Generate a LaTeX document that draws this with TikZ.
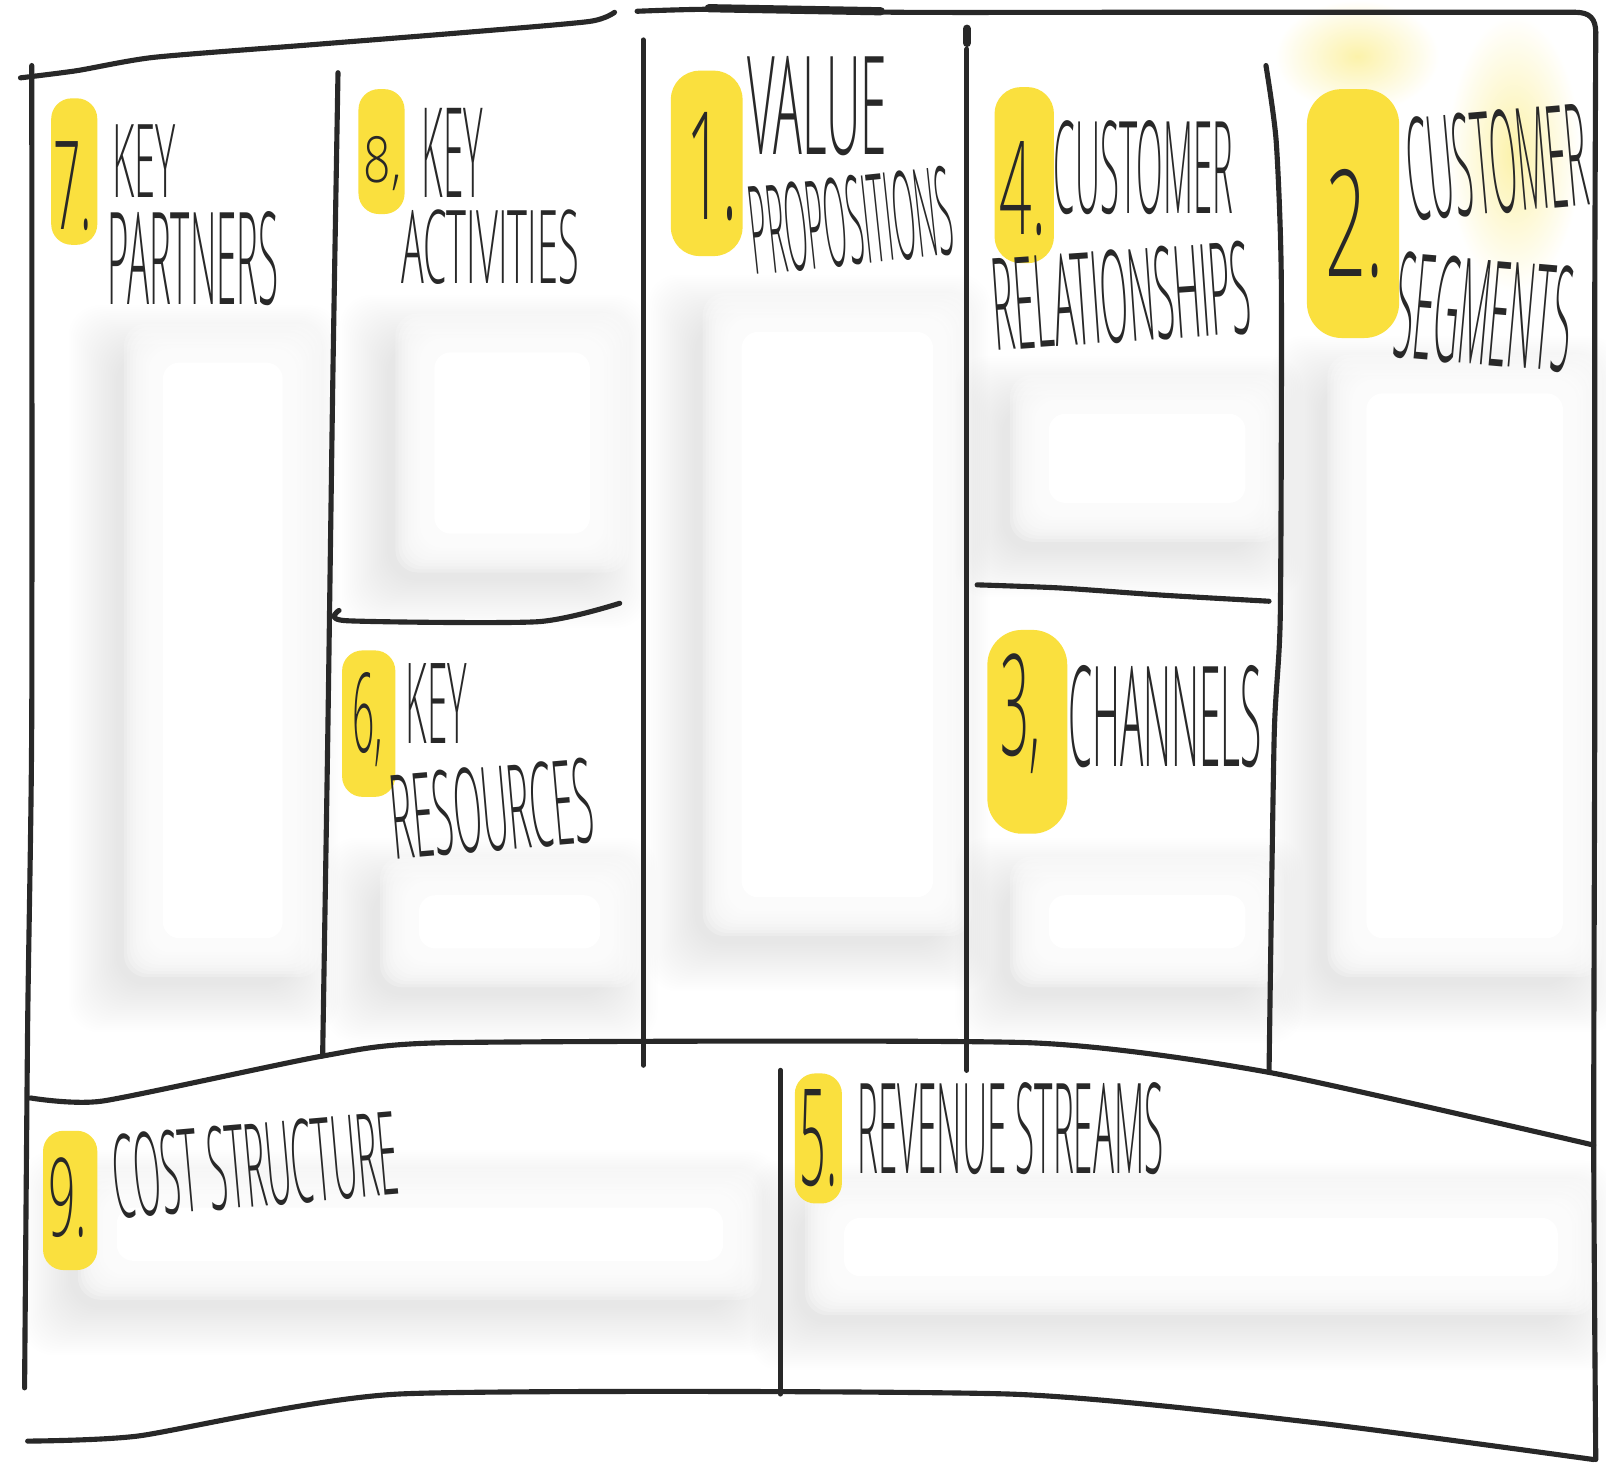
\documentclass[tikz,border=0pt]{standalone}
\usepackage{fontspec}
\IfFontExistsTF{Open Sans Light}{\newfontfamily\hwfont{Open Sans Light}}{%
  \IfFontExistsTF{Lato Light}{\newfontfamily\hwfont{Lato Light}}{%
    \IfFontExistsTF{Fira Sans Light}{\newfontfamily\hwfont{Fira Sans Light}}{%
      \newfontfamily\hwfont{Open Sans}}}}
\newcommand{\hwtext}[3]{\resizebox*{#1pt}{#2pt}{\hwfont #3}}
\definecolor{mk}{RGB}{250,224,62}
\definecolor{ink}{RGB}{40,40,40}
\definecolor{glow}{RGB}{252,242,170}
\newcommand{\softbox}[4]{%
  \foreach \k in {0,...,23}{%
    \pgfmathsetmacro{\dd}{50-2*\k}%
    \fill[black, opacity=0.005, rounded corners=30pt] ({#1-\dd-18},{#2-\dd+18}) rectangle ({#3+\dd-18},{#4+\dd+18});
  }%
  \foreach \k in {0,...,12}{%
    \pgfmathsetmacro{\ee}{3*\k-14}%
    \fill[white, opacity=0.22, rounded corners=22pt] ({#1+\ee},{#2+\ee}) rectangle ({#3-\ee},{#4-\ee});
  }%
  \fill[white, rounded corners=16pt] ({#1+24},{#2+24}) rectangle ({#3-24},{#4-24});
}
\begin{document}
\begin{tikzpicture}[x=1pt,y=-1pt,
  pen/.style={draw=ink, line width=5pt, line cap=round, line join=round},
  blob/.style={fill=mk, rounded corners=#1},
  blob/.default=20pt,
  lbl/.style={inner sep=0pt, outer sep=0pt, text=ink}
]
\useasboundingbox[fill=white] (0,0) rectangle (1568,1438);

% soft grey halos inside the boxes
\softbox{135}{330}{300}{940}
\softbox{400}{320}{600}{545}
\softbox{385}{850}{610}{950}
\softbox{700}{300}{935}{900}
\softbox{1000}{380}{1240}{515}
\softbox{1000}{850}{1240}{950}
\softbox{1310}{360}{1550}{940}
\softbox{90}{1155}{730}{1255}
\softbox{800}{1165}{1545}{1270}

% faint yellow glow near segment 2
\shade[inner color=glow, outer color=white] (1325,55) ellipse (80 and 55);
\shade[inner color=glow, outer color=white] (1478,150) ellipse (65 and 135);

% marker blobs
\fill[blob] (50,96) rectangle (95,239);
\fill[blob] (350,87) rectangle (395,209);
\fill[blob=28pt] (655,69) rectangle (725,250);
\fill[blob=26pt] (971,85) rectangle (1029,257);
\fill[blob=34pt] (1276,87) rectangle (1366,330);
\fill[blob] (334,635) rectangle (386,778);
\fill[blob=34pt] (964,615) rectangle (1042,814);
\fill[blob] (42,1104) rectangle (95,1240);
\fill[blob] (776,1048) rectangle (822,1175);

% frame and dividers
\draw[pen] plot[smooth,tension=0.4] coordinates {(20,76) (75,69) (150,56) (300,44) (450,32) (575,21) (600,12)};
\draw[pen] plot[smooth,tension=0.4] coordinates {(622,11) (700,9) (880,12) (1100,12) (1300,12) (1538,12)};
\draw[pen] (1538,12) .. controls (1552,12) and (1558,18) .. (1558,32);
\draw[pen, line width=8pt] (692,8) -- (860,11);
\draw[pen] plot[smooth,tension=0.4] coordinates {(1558,32) (1557,300) (1557,700) (1556,1118) (1558,1425)};
\draw[pen] plot[smooth,tension=0.4] coordinates {(31,64) (31,700) (27,1000) (24,1355)};
\draw[pen] plot[smooth,tension=0.4] coordinates {(330,71) (325,367) (320,720) (315,1031)};
\draw[pen] plot[smooth,tension=0.4] coordinates {(331,596) (338,606) (525,607) (605,589)};
\draw[pen] (628,39) -- (628,1040);
\draw[pen, line width=8pt] (944,28) -- (944,42);
\draw[pen] (944,48) -- (944,1045);
\draw[pen] plot[smooth,tension=0.4] coordinates {(954,571) (1034,574) (1134,581) (1239,587)};
\draw[pen] plot[smooth,tension=0.4] coordinates {(1236,64) (1246,138) (1251,275) (1250,600) (1244,720) (1239,1047)};
\draw[pen] plot[smooth,tension=0.35] coordinates {(30,1072) (100,1075) (315,1031) (435,1018) (1004,1018) (1239,1047) (1556,1118)};
\draw[pen] (762,1045) -- (762,1361);
\draw[pen] plot[smooth,tension=0.35] coordinates {(27,1407) (135,1402) (390,1361) (984,1361) (1284,1389) (1556,1425)};

% numbers
\node[lbl] (n7) at (71,181.5) {\hwtext{38}{87}{7.}};
\node[lbl] (n8) at (373.5,159.5) {\hwtext{37}{53}{8,}};
\node[lbl] (n1) at (695,163) {\hwtext{50}{106}{1.}};
\node[lbl] (n4) at (998.5,184) {\hwtext{45}{92}{4.}};
\node[lbl] (n2) at (1322.5,218) {\hwtext{57}{106}{2.}};
\node[lbl] (n6) at (359,703) {\hwtext{30}{92}{6,}};
\node[lbl] (n3) at (996.5,696.5) {\hwtext{39}{117}{3,}};
\node[lbl] (n9) at (66,1169) {\hwtext{38}{78}{9.}};
\node[lbl] (n5) at (799.5,1111.5) {\hwtext{37}{95}{5.}};

% titles
\node[lbl] (kp1) at (141,157.5) {\hwtext{62}{71}{KEY}};
\node[lbl] (kp2) at (188.5,252.5) {\hwtext{167}{92}{PARTNERS}};
\node[lbl] (ka1) at (442,149.5) {\hwtext{60}{87}{KEY}};
\node[lbl] (ka2) at (478.5,241.5) {\hwtext{173}{73}{ACTIVITIES}};
\node[lbl] (vp1) at (798,103.5) {\hwtext{136}{97}{VALUE}};
\node[lbl, rotate=6] (vp2) at (831,215.5) {\hwtext{198}{88}{PROPOSITIONS}};
\node[lbl] (cr1) at (1116.5,164) {\hwtext{175}{92}{CUSTOMER}};
\node[lbl, rotate=4] (cr2) at (1095,289) {\hwtext{252}{92}{RELATIONSHIPS}};
\node[lbl, rotate=5] (cs1) at (1461.5,158) {\hwtext{177}{102}{CUSTOMER}};
\node[lbl, rotate=-5] (cs2) at (1449,305) {\hwtext{172}{105}{SEGMENTS}};
\node[lbl] (kr1) at (426,687) {\hwtext{60}{78}{KEY}};
\node[lbl, rotate=5] (kr2) at (480.5,789.5) {\hwtext{198}{84}{RESOURCES}};
\node[lbl] (ch) at (1137.5,700) {\hwtext{189}{100}{CHANNELS}};
\node[lbl, rotate=5] (co) at (249,1137.5) {\hwtext{278}{83}{COST STRUCTURE}};
\node[lbl] (rs) at (986.5,1102) {\hwtext{299}{90}{REVENUE STREAMS}};
\end{tikzpicture}
\end{document}
